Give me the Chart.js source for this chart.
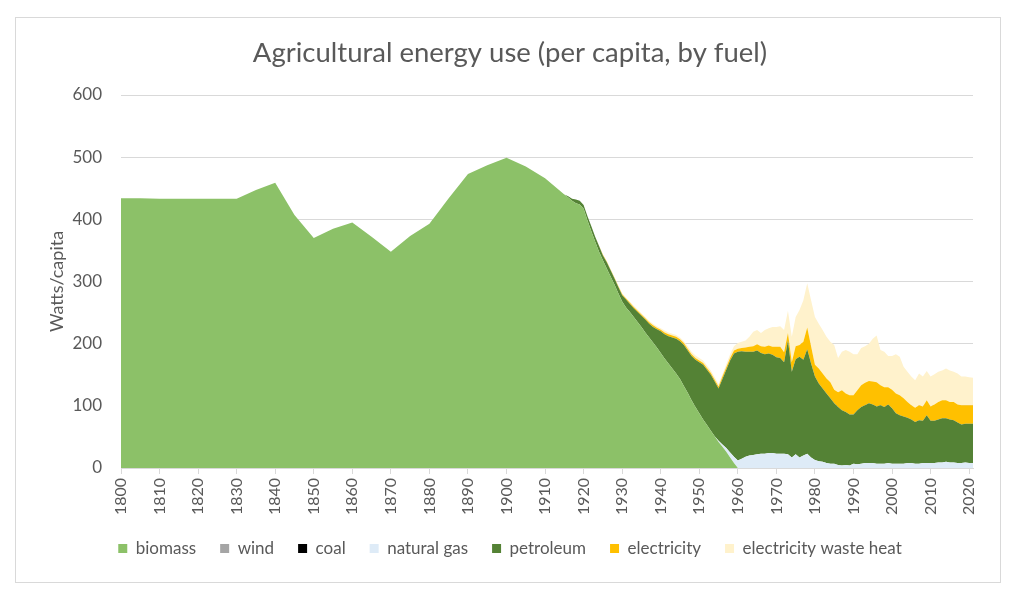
<!DOCTYPE html>
<html>
<head>
<meta charset="utf-8">
<title>Agricultural energy use</title>
<script src="https://cdn.jsdelivr.net/npm/chart.js@4.4.1/dist/chart.umd.min.js"></script>
<style>
  html, body { margin: 0; padding: 0; background: #ffffff; }
  #frame {
    position: absolute; left: 15px; top: 17px; width: 984px; height: 564px;
    border: 1px solid #d9d9d9;
  }
  #chart { position: absolute; left: 0; top: 0; }
</style>
</head>
<body>
<div id="frame"></div>
<canvas id="chart" width="1017" height="598"></canvas>
<script>
// x positions: sparse before 1915 (straight segments in the source), yearly afterwards
const earlyYears = [1800, 1805, 1810, 1815, 1820, 1825, 1830, 1835, 1840, 1845, 1850, 1855,
  1860, 1865, 1870, 1875, 1880, 1885, 1890, 1895, 1900, 1905, 1910, 1915];
const annualYears = Array.from({ length: 106 }, (_, i) => 1916 + i);
const years = earlyYears.concat(annualYears);

// W/capita, one value per entry of `years`
const biomass = [
  434, 434, 433, 433, 433, 433, 433, 447, 459, 407, 370, 385,
  395, 372, 348, 373, 393, 434, 473, 487, 499, 485, 466, 440,
  435, 430, 426, 424, 417, 398, 381, 364, 348, 334, // 1916-1925
  321, 308, 295, 281, 268, 258, 251, 243, 235, 227,
  218, 210, 202, 194, 185, 176, 168, 160, 152, 143,
  132, 121, 109, 98, 88, 78, 69, 60, 51, 42,
  34, 26, 17, 8, 0, 0, 0, 0, 0, 0,                 // 1956-1965
  0, 0, 0, 0, 0, 0, 0, 0, 0, 0,
  0, 0, 0, 0, 0, 0, 0, 0, 0, 0,
  0, 0, 0, 0, 0, 0, 0, 0, 0, 0,
  0, 0, 0, 0, 0, 0, 0, 0, 0, 0,
  0, 0, 0, 0, 0, 0, 0, 0, 0, 0,
  0, 0, 0, 0, 0, 0,                                 // 2016-2021
];

const wind = [];
const coal = [];

const naturalGas = [
  0, 0, 0, 0, 0, 0, 0, 0, 0, 0, 0, 0,
  0, 0, 0, 0, 0, 0, 0, 0, 0, 0, 0, 0,
  0, 0, 0, 0, 0, 0, 0, 0, 0, 0,                     // 1916-1925
  0, 0, 0, 0, 0, 0, 0, 0, 0, 0,
  0, 0, 0, 0, 0, 0, 0, 0, 0, 0,
  0, 0, 0, 0, 0, 0, 0, 0, 0, 2,
  4, 6, 8, 10, 12, 15, 18, 20, 21, 22,              // 1956-1965
  23, 23, 24, 24, 23, 23, 23, 22, 17, 22,
  17, 20, 23, 17, 13, 11, 10, 8, 7, 7,
  5, 4, 5, 4, 7, 6, 7, 8, 8, 8,
  7, 7, 7, 8, 7, 7, 7, 7, 8, 8,
  7, 7, 8, 8, 8, 8, 9, 9, 10, 9,
  9, 8, 8, 9, 8, 8,                                 // 2016-2021
];

const petroleum = [
  0, 0, 0, 0, 0, 0, 0, 0, 0, 0, 0, 0,
  0, 0, 0, 0, 0, 0, 0, 0, 0, 0, 0, 0,
  2, 3, 6, 6, 6, 7, 8, 8, 9, 8,                     // 1916-1925
  10, 10, 10, 10, 10, 13, 13, 14, 16, 18,
  21, 22, 25, 29, 35, 39, 44, 50, 56, 61,
  66, 68, 71, 76, 82, 88, 89, 90, 88, 84,
  105, 126, 148, 166, 175, 173, 169, 167, 166, 167, // 1956-1965
  162, 160, 160, 158, 155, 154, 147, 183, 138, 153,
  162, 154, 168, 151, 134, 125, 118, 112, 105, 97,
  93, 89, 85, 82, 79, 87, 91, 93, 96, 94,
  92, 94, 91, 94, 89, 81, 78, 76, 73, 70,
  67, 70, 68, 77, 68, 68, 69, 71, 70, 69,
  68, 65, 62, 62, 63, 63,                           // 2016-2021
];

const electricity = [
  0, 0, 0, 0, 0, 0, 0, 0, 0, 0, 0, 0,
  0, 0, 0, 0, 0, 0, 0, 0, 0, 0, 0, 0,
  0, 0, 0, 0, 0, 0, 0, 0, 0.5, 1,                   // 1916-1925
  1, 1, 1, 1.5, 1.5, 1.5, 2, 2, 2, 2,
  2, 2.5, 2.5, 2.5, 2.5, 3, 3, 3, 3, 3,
  3, 3, 3, 3, 3, 3, 3, 3, 3, 3,
  4, 4, 4, 5, 5, 5, 7, 8, 9, 10,                    // 1956-1965
  11, 12, 13, 13, 17, 18, 16, 12, 15, 21,
  19, 29, 35, 28, 19, 24, 24, 24, 26, 22,
  24, 32, 30, 31, 31, 32, 35, 36, 36, 37,
  39, 32, 32, 28, 30, 32, 32, 29, 25, 23,
  23, 24, 23, 24, 23, 26, 28, 29, 29, 28,
  29, 29, 31, 30, 30, 30,                           // 2016-2021
];

const wasteHeat = [
  0, 0, 0, 0, 0, 0, 0, 0, 0, 0, 0, 0,
  0, 0, 0, 0, 0, 0, 0, 0, 0, 0, 0, 0,
  0, 0, 0, 0, 0, 0, 0, 0, 0.5, 1,                   // 1916-1925
  1, 1, 1, 1.5, 1.5, 1.5, 2, 2, 2, 2,
  2, 2.5, 2.5, 2.5, 2.5, 3, 3, 3, 3, 3,
  3, 4, 4, 4, 4, 4, 4, 4, 4, 4,
  4, 5, 6, 7, 9, 10, 11, 16, 23, 23,                // 1956-1965
  21, 27, 28, 32, 32, 33, 36, 36, 41, 47,
  56, 67, 71, 74, 77, 72, 70, 67, 65, 72,
  55, 62, 70, 70, 66, 58, 60, 59, 60, 69,
  75, 57, 57, 50, 54, 63, 62, 51, 49, 46,
  44, 51, 48, 47, 48, 49, 49, 48, 51, 51,
  49, 50, 46, 46, 45, 44,                           // 2016-2021
];

const textColor = "#595959";
const gridColor = "#d9d9d9";

Chart.defaults.font.family = "Lato, 'Open Sans', sans-serif";
Chart.defaults.color = textColor;

function areaSeries(label, values, color, fill) {
  return {
    label,
    data: values.map((value, i) => ({ x: years[i], y: value })),
    backgroundColor: color,
    borderColor: "transparent",
    borderWidth: 0,
    pointRadius: 0,
    tension: 0,
    fill,
  };
}

new Chart(document.querySelector("#chart"), {
  type: "line",
  data: {
    datasets: [
      areaSeries("biomass", biomass, "#8cc168", "origin"),
      areaSeries("wind", wind, "#a5a5a5", false),
      areaSeries("coal", coal, "#000000", false),
      areaSeries("natural gas", naturalGas, "#deebf7", 0),
      areaSeries("petroleum", petroleum, "#548235", "-1"),
      areaSeries("electricity", electricity, "#ffc000", "-1"),
      areaSeries("electricity waste heat", wasteHeat, "#fff2cc", "-1"),
    ],
  },
  options: {
    responsive: false,
    animation: false,
    events: [],
    layout: { padding: { left: 47, right: 44, top: 0, bottom: 31 } },
    plugins: {
      title: {
        display: true,
        text: "Agricultural energy use (per capita, by fuel)",
        color: textColor,
        font: { size: 27.5, weight: "normal" },
        padding: { top: 37, bottom: 25 },
      },
      legend: {
        position: "bottom",
        labels: {
          boxWidth: 9,
          boxHeight: 9,
          padding: 24,
          color: textColor,
          font: { size: 17 },
        },
      },
      tooltip: { enabled: false },
    },
    scales: {
      x: {
        type: "linear",
        min: 1800,
        max: 2021,
        grid: { drawOnChartArea: false, drawTicks: true, tickLength: 6, color: gridColor },
        border: { color: gridColor },
        ticks: {
          stepSize: 10,
          includeBounds: false,
          autoSkip: false,
          minRotation: 90,
          maxRotation: 90,
          padding: 4,
          font: { size: 16 },
          callback: (value) => String(value),
        },
        afterFit: (scale) => { scale.height = 48; },
      },
      y: {
        stacked: true,
        min: 0,
        max: 600,
        grid: { color: gridColor, drawTicks: false },
        border: { display: false },
        ticks: { stepSize: 100, padding: 19, font: { size: 17 } },
        title: {
          display: true,
          text: "Watts/capita",
          color: textColor,
          font: { size: 18 },
          padding: { top: -1, bottom: 0 },
        },
        afterFit: (scale) => { scale.width = 74; },
      },
    },
  },
});
</script>
</body>
</html>
